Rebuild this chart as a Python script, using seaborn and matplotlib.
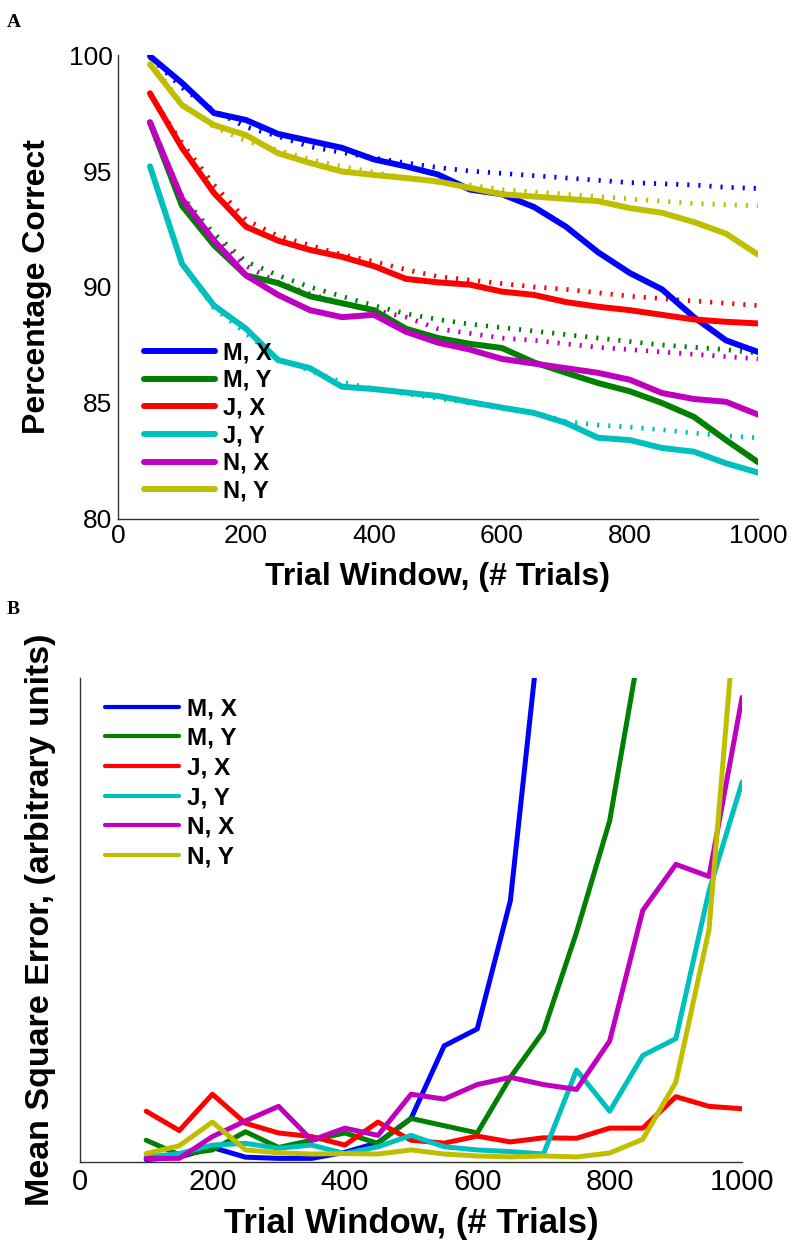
import matplotlib
matplotlib.use("Agg")
import matplotlib.pyplot as plt
import numpy as np
import pandas as pd
import seaborn as sns

# ---- data ----
labels = ["M, X", "M, Y", "J, X", "J, Y", "N, X", "N, Y"]
colors = ["#0000ff", "#008000", "#ff0000", "#00bfbf", "#bf00bf", "#bfbf00"]

win_a = [50, 100, 150, 200, 250, 300, 350, 400, 450, 500,
         550, 600, 650, 700, 750, 800, 850, 900, 950, 1000]

pct_mx = [99.95, 98.8, 97.5, 97.2, 96.6, 96.3, 96.0, 95.5, 95.2, 94.85,
          94.2, 94.0, 93.45, 92.6, 91.5, 90.6, 89.9, 88.7, 87.7, 87.2]
pct_my = [97.1, 93.5, 91.8, 90.5, 90.17, 89.6, 89.3, 89.0, 88.2, 87.8,
          87.55, 87.37, 86.75, 86.3, 85.86, 85.5, 85.0, 84.4, 83.4, 82.45]
pct_jx = [98.35, 96.0, 94.05, 92.6, 92.0, 91.6, 91.3, 90.9, 90.35, 90.2,
          90.1, 89.8, 89.66, 89.35, 89.15, 89.0, 88.8, 88.6, 88.5, 88.43]
pct_jy = [95.2, 91.0, 89.2, 88.2, 86.85, 86.5, 85.7, 85.6, 85.45, 85.3,
          85.04, 84.8, 84.57, 84.14, 83.5, 83.4, 83.06, 82.9, 82.4, 82.0]
pct_nx = [97.1, 93.8, 92.0, 90.5, 89.66, 89.0, 88.7, 88.8, 88.07, 87.6,
          87.3, 86.9, 86.7, 86.5, 86.3, 86.0, 85.43, 85.17, 85.05, 84.5]
pct_ny = [99.6, 97.84, 96.98, 96.55, 95.77, 95.35, 94.98, 94.83, 94.7, 94.55,
          94.27, 94.0, 93.9, 93.8, 93.7, 93.4, 93.2, 92.8, 92.3, 91.4]

fit_mx = [99.9, 98.6, 97.6, 96.9, 96.5, 96.05, 95.8, 95.56, 95.35, 95.15,
          95.0, 94.9, 94.8, 94.7, 94.6, 94.5, 94.45, 94.4, 94.3, 94.25]
fit_my = [97.1, 93.9, 92.3, 91.1, 90.5, 90.0, 89.6, 89.2, 88.85, 88.6,
          88.4, 88.25, 88.1, 87.95, 87.8, 87.65, 87.5, 87.4, 87.3, 87.15]
fit_jx = [98.3, 96.2, 94.4, 92.9, 92.2, 91.8, 91.4, 91.1, 90.75, 90.45,
          90.3, 90.15, 90.0, 89.9, 89.75, 89.6, 89.5, 89.4, 89.3, 89.2]
fit_jy = [95.2, 91.0, 89.1, 88.0, 86.9, 86.4, 85.9, 85.6, 85.4, 85.2,
          85.0, 84.8, 84.6, 84.2, 84.05, 83.96, 83.84, 83.7, 83.58, 83.5]
fit_nx = [97.1, 93.8, 92.1, 90.9, 90.2, 89.7, 89.3, 89.0, 88.7, 88.2,
          88.0, 87.8, 87.7, 87.55, 87.4, 87.3, 87.2, 87.1, 87.0, 86.9]
fit_ny = [99.7, 97.9, 96.9, 96.3, 95.9, 95.5, 95.2, 94.95, 94.7, 94.5,
          94.4, 94.2, 94.1, 94.0, 93.9, 93.8, 93.7, 93.6, 93.55, 93.5]

win_b = [100, 150, 200, 250, 300, 350, 400, 450, 500, 550,
         600, 650, 700, 750, 800, 850, 900, 950, 1000]

mse_mx = [0.01, 0.02, 0.06, 0.02, 0.015, 0.015, 0.04, 0.08, 0.18, 0.48,
          0.55, 1.08, 2.35, 4.0, 6.0, 8.0, 10.0, 12.0, 14.0]
mse_my = [0.09, 0.03, 0.05, 0.125, 0.06, 0.09, 0.12, 0.077, 0.18, 0.15,
          0.12, 0.35, 0.54, 0.95, 1.41, 2.2, 3.5, 5.0, 7.0]
mse_jx = [0.21, 0.13, 0.28, 0.16, 0.12, 0.105, 0.07, 0.165, 0.09, 0.078,
          0.107, 0.083, 0.10, 0.098, 0.14, 0.14, 0.27, 0.23, 0.22]
mse_jy = [0.02, 0.035, 0.07, 0.077, 0.057, 0.07, 0.035, 0.063, 0.11, 0.063,
          0.05, 0.043, 0.033, 0.38, 0.21, 0.44, 0.51, 1.12, 1.57]
mse_nx = [0.015, 0.015, 0.105, 0.17, 0.23, 0.09, 0.14, 0.11, 0.28, 0.26,
          0.32, 0.35, 0.32, 0.30, 0.50, 1.04, 1.23, 1.18, 1.92]
mse_ny = [0.035, 0.067, 0.165, 0.05, 0.038, 0.033, 0.035, 0.033, 0.05, 0.033,
          0.025, 0.021, 0.025, 0.021, 0.037, 0.094, 0.33, 0.96, 2.6]

pct = [pct_mx, pct_my, pct_jx, pct_jy, pct_nx, pct_ny]
fit = [fit_mx, fit_my, fit_jx, fit_jy, fit_nx, fit_ny]
mse = [mse_mx, mse_my, mse_jx, mse_jy, mse_nx, mse_ny]


def _long(xs, series, col):
    return pd.DataFrame(
        [{"trials": x, col: v, "series": lab}
         for lab, ys in zip(labels, series) for x, v in zip(xs, ys)]
    )


df_pct = _long(win_a, pct, "value")
df_fit = _long(win_a, fit, "value")
df_mse = _long(win_b, mse, "value")
palette = dict(zip(labels, colors))

sns.set_theme(style="white")
plt.rcParams["font.family"] = ["Liberation Sans", "DejaVu Sans"]
plt.rcParams["axes.edgecolor"] = "#333333"
plt.rcParams["text.color"] = "black"
plt.rcParams["axes.labelcolor"] = "black"

fig = plt.figure(figsize=(7.92, 12.4), dpi=100)
ax_a = fig.add_axes([0.149, 0.5815, 0.808, 0.3741])
ax_b = fig.add_axes([0.101, 0.0629, 0.836, 0.3903])

# panel A: solid = data, dotted = fit
for lab in labels:
    sub = df_fit[df_fit["series"] == lab]
    ax_a.plot(sub["trials"], sub["value"], color=palette[lab], lw=3.4,
              linestyle=(0, (0.45, 1.9)), dash_capstyle="butt")
sns.lineplot(data=df_pct, x="trials", y="value", hue="series", palette=palette,
             hue_order=labels, lw=4.3, estimator=None, sort=False, ax=ax_a)

ax_a.set_xlim(0, 1000)
ax_a.set_ylim(80, 100)
ax_a.set_xticks([0, 200, 400, 600, 800, 1000])
ax_a.set_yticks([80, 85, 90, 95, 100])
ax_a.set_xlabel("Trial Window, (# Trials)", fontsize=23, fontweight="bold", labelpad=10)
ax_a.set_ylabel("Percentage Correct", fontsize=23, fontweight="bold", labelpad=12)
leg = ax_a.legend(loc="lower left", bbox_to_anchor=(0.041, 0.035), frameon=False,
                  fontsize=17, handlelength=3.0, handletextpad=0.35,
                  labelspacing=0.2, borderaxespad=0, borderpad=0)
for t in leg.get_texts():
    t.set_fontweight("bold")
for h in leg.get_lines():
    h.set_linewidth(4.3)

# panel B
sns.lineplot(data=df_mse, x="trials", y="value", hue="series", palette=palette,
             hue_order=labels, lw=3.6, estimator=None, sort=False, ax=ax_b)
ax_b.set_xlim(0, 1000)
ax_b.set_ylim(0, 2)
ax_b.set_xticks([0, 200, 400, 600, 800, 1000])
ax_b.set_yticks([0, 1, 2])
ax_b.set_yticklabels([])
ax_b.set_xlabel("Trial Window, (# Trials)", fontsize=25, fontweight="bold", labelpad=8)
ax_b.set_ylabel("Mean Square Error, (arbitrary units)", fontsize=24.5, fontweight="bold",
                labelpad=13)
leg = ax_b.legend(loc="upper left", bbox_to_anchor=(0.038, 0.96), frameon=False,
                  fontsize=17.5, handlelength=3.05, handletextpad=0.33,
                  labelspacing=0.27, borderaxespad=0, borderpad=0)
for t in leg.get_texts():
    t.set_fontweight("bold")
for h in leg.get_lines():
    h.set_linewidth(3.0)

for ax, size in ((ax_a, 19), (ax_b, 21)):
    sns.despine(ax=ax)
    ax.tick_params(direction="in", length=6, width=1, labelsize=size, colors="#333333",
                   labelcolor="black", pad=4)
    ax.spines["left"].set_linewidth(1)
    ax.spines["bottom"].set_linewidth(1)

fig.text(0.008, 0.978, "A", family=["Liberation Serif", "DejaVu Serif"],
         fontweight="bold", fontsize=14)
fig.text(0.008, 0.505, "B", family=["Liberation Serif", "DejaVu Serif"],
         fontweight="bold", fontsize=14)

fig.savefig("out.png", dpi=100)
